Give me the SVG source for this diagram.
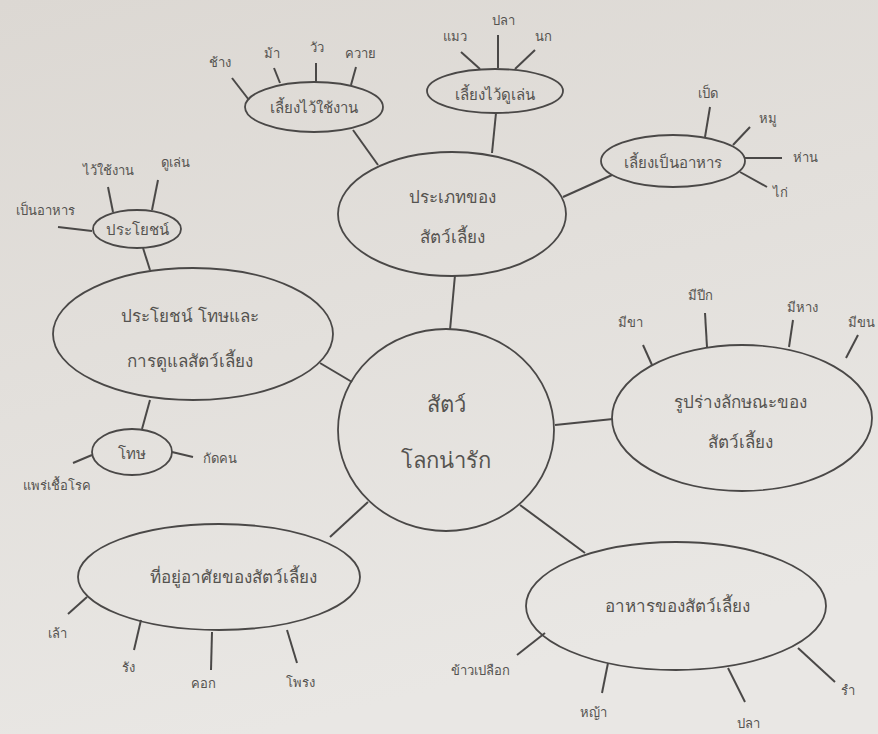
<svg xmlns="http://www.w3.org/2000/svg" width="878" height="734" viewBox="0 0 878 734">
<defs>
<linearGradient id="bg" x1="0" y1="0" x2="0.3" y2="1">
<stop offset="0" stop-color="#dcd8d3"/>
<stop offset="1" stop-color="#e9e7e4"/>
</linearGradient>
</defs>
<style>
.n{fill:none;stroke:#4a4847;stroke-width:1.8}
.c line{stroke:#4a4847;stroke-width:2}
text{font-family:"Noto Sans","DejaVu Sans",sans-serif;fill:#555350;text-anchor:middle}
.s{font-size:13px}
.m{font-size:15px}
.b{font-size:17px}
.x{font-size:22px}
</style>
<rect width="878" height="734" fill="url(#bg)"/>
<g class="c" id="connectors">
<line x1="450" y1="330" x2="455" y2="275"/>
<line x1="353" y1="130" x2="378" y2="165"/>
<line x1="496" y1="113" x2="492" y2="153"/>
<line x1="563" y1="197" x2="612" y2="175"/>
<line x1="143" y1="248" x2="150" y2="270"/>
<line x1="320" y1="363" x2="352" y2="382"/>
<line x1="150" y1="400" x2="142" y2="429"/>
<line x1="555" y1="425" x2="613" y2="419"/>
<line x1="368" y1="502" x2="330" y2="537"/>
<line x1="520" y1="505" x2="585" y2="553"/>
<line x1="232" y1="78" x2="249" y2="100"/>
<line x1="274" y1="68" x2="280" y2="83"/>
<line x1="316" y1="63" x2="316" y2="82"/>
<line x1="356" y1="67" x2="351" y2="85"/>
<line x1="461" y1="52" x2="480" y2="69"/>
<line x1="498" y1="35" x2="498" y2="68"/>
<line x1="535" y1="50" x2="515" y2="69"/>
<line x1="710" y1="107" x2="705" y2="137"/>
<line x1="750" y1="127" x2="733" y2="145"/>
<line x1="745" y1="158" x2="782" y2="158"/>
<line x1="740" y1="172" x2="767" y2="187"/>
<line x1="108" y1="187" x2="113" y2="212"/>
<line x1="158" y1="180" x2="152" y2="210"/>
<line x1="58" y1="227" x2="92" y2="231"/>
<line x1="172" y1="452" x2="193" y2="457"/>
<line x1="92" y1="455" x2="73" y2="463"/>
<line x1="643" y1="345" x2="652" y2="365"/>
<line x1="705" y1="313" x2="707" y2="347"/>
<line x1="793" y1="320" x2="789" y2="347"/>
<line x1="858" y1="335" x2="846" y2="358"/>
<line x1="87" y1="597" x2="68" y2="614"/>
<line x1="141" y1="620" x2="134" y2="650"/>
<line x1="212" y1="632" x2="211" y2="670"/>
<line x1="287" y1="630" x2="297" y2="663"/>
<line x1="545" y1="633" x2="517" y2="655"/>
<line x1="608" y1="663" x2="602" y2="693"/>
<line x1="728" y1="668" x2="745" y2="702"/>
<line x1="798" y1="648" x2="835" y2="682"/>
</g>
<g id="center">
<ellipse class="n" cx="446" cy="430" rx="108" ry="101"/>
<text class="x" x="446" y="412">สัตว์</text>
<text class="x" x="446" y="468">โลกน่ารัก</text>
</g>
<g id="types">
<ellipse class="n" cx="452" cy="214" rx="114" ry="62"/>
<text class="b" x="452" y="203">ประเภทของ</text>
<text class="b" x="452" y="243">สัตว์เลี้ยง</text>
</g>
<g id="work">
<ellipse class="n" cx="314" cy="107" rx="69" ry="25"/>
<text class="m" x="314" y="113">เลี้ยงไว้ใช้งาน</text>
<text class="s" x="220" y="67">ช้าง</text>
<text class="s" x="272" y="58">ม้า</text>
<text class="s" x="317" y="52">วัว</text>
<text class="s" x="360" y="58">ควาย</text>
</g>
<g id="pet">
<ellipse class="n" cx="495" cy="91" rx="68" ry="22"/>
<text class="m" x="495" y="100">เลี้ยงไว้ดูเล่น</text>
<text class="s" x="455" y="41">แมว</text>
<text class="s" x="503" y="25">ปลา</text>
<text class="s" x="543" y="41">นก</text>
</g>
<g id="food-animals">
<ellipse class="n" cx="673" cy="161" rx="72" ry="26"/>
<text class="m" x="673" y="168">เลี้ยงเป็นอาหาร</text>
<text class="s" x="708" y="98">เป็ด</text>
<text class="s" x="768" y="123">หมู</text>
<text class="s" x="805" y="162">ห่าน</text>
<text class="s" x="780" y="197">ไก่</text>
</g>
<g id="benefit-care">
<ellipse class="n" cx="193" cy="334" rx="140" ry="66"/>
<text class="b" x="190" y="322">ประโยชน์ โทษและ</text>
<text class="b" x="190" y="367">การดูแลสัตว์เลี้ยง</text>
</g>
<g id="benefit">
<ellipse class="n" cx="137" cy="229" rx="44" ry="19"/>
<text class="m" x="137" y="235">ประโยชน์</text>
<text class="s" x="108" y="175">ไว้ใช้งาน</text>
<text class="s" x="175" y="167">ดูเล่น</text>
<text class="s" x="45" y="215">เป็นอาหาร</text>
</g>
<g id="harm">
<ellipse class="n" cx="132" cy="452" rx="40" ry="23"/>
<text class="m" x="132" y="459">โทษ</text>
<text class="s" x="220" y="463">กัดคน</text>
<text class="s" x="57" y="490">แพร่เชื้อโรค</text>
</g>
<g id="appearance">
<ellipse class="n" cx="742" cy="418" rx="130" ry="73"/>
<text class="b" x="740" y="408">รูปร่างลักษณะของ</text>
<text class="b" x="740" y="448">สัตว์เลี้ยง</text>
<text class="s" x="630" y="327">มีขา</text>
<text class="s" x="700" y="300">มีปีก</text>
<text class="s" x="802" y="312">มีหาง</text>
<text class="s" x="848" y="327" style="text-anchor:start">มีขน</text>
</g>
<g id="habitat">
<ellipse class="n" cx="219" cy="577" rx="141" ry="53"/>
<text class="b" x="233" y="583">ที่อยู่อาศัยของสัตว์เลี้ยง</text>
<text class="s" x="57" y="638">เล้า</text>
<text class="s" x="128" y="672">รัง</text>
<text class="s" x="203" y="688">คอก</text>
<text class="s" x="300" y="687">โพรง</text>
</g>
<g id="feed">
<ellipse class="n" cx="676" cy="606" rx="150" ry="64"/>
<text class="b" x="677" y="612">อาหารของสัตว์เลี้ยง</text>
<text class="s" x="480" y="675">ข้าวเปลือก</text>
<text class="s" x="593" y="717">หญ้า</text>
<text class="s" x="748" y="728">ปลา</text>
<text class="s" x="848" y="695">รำ</text>
</g>
</svg>
